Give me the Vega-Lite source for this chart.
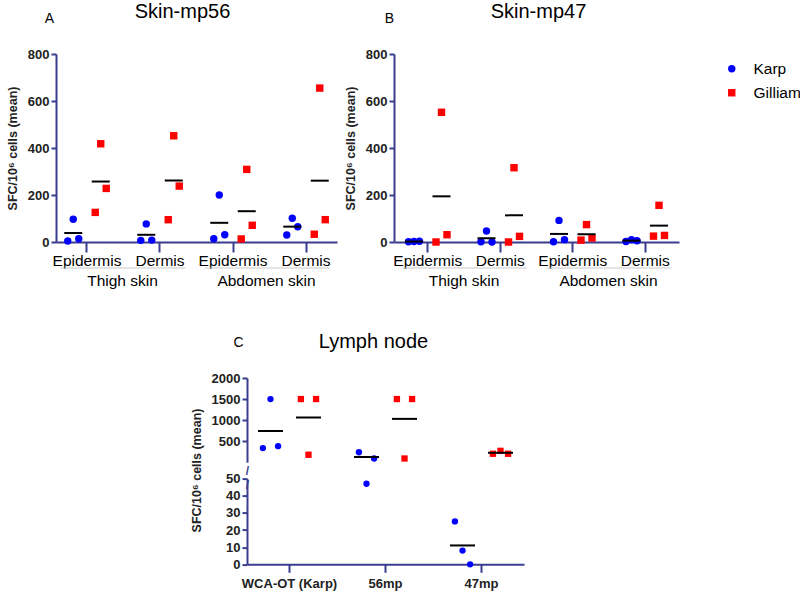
{
  "$schema": "https://vega.github.io/schema/vega-lite/v6.json",
  "background": "white",
  "padding": {"left": 6, "top": 2, "right": 0, "bottom": 0},
  "config": {
    "font": "Liberation Sans",
    "view": {"stroke": null},
    "axis": {"grid": false, "labelOverlap": false, "domainColor": "#3b3d8f", "domainWidth": 2, "tickColor": "#3b3d8f", "tickWidth": 2, "labelColor": "#222222", "titleColor": "#222222"},
    "title": {"fontWeight": "normal", "color": "#000000"}
  },
  "datasets": {
    "skin": [
      {"panel": "A", "site": "Thigh Epidermis", "strain": "Karp", "mouse": "Karp 1", "value": 4},
      {"panel": "A", "site": "Thigh Epidermis", "strain": "Karp", "mouse": "Karp 2", "value": 97},
      {"panel": "A", "site": "Thigh Epidermis", "strain": "Karp", "mouse": "Karp 3", "value": 14},
      {"panel": "A", "site": "Thigh Epidermis", "strain": "Gilliam", "mouse": "Gilliam 1", "value": 126},
      {"panel": "A", "site": "Thigh Epidermis", "strain": "Gilliam", "mouse": "Gilliam 2", "value": 418},
      {"panel": "A", "site": "Thigh Epidermis", "strain": "Gilliam", "mouse": "Gilliam 3", "value": 228},
      {"panel": "A", "site": "Thigh Dermis", "strain": "Karp", "mouse": "Karp 1", "value": 7},
      {"panel": "A", "site": "Thigh Dermis", "strain": "Karp", "mouse": "Karp 2", "value": 77},
      {"panel": "A", "site": "Thigh Dermis", "strain": "Karp", "mouse": "Karp 3", "value": 8},
      {"panel": "A", "site": "Thigh Dermis", "strain": "Gilliam", "mouse": "Gilliam 1", "value": 95},
      {"panel": "A", "site": "Thigh Dermis", "strain": "Gilliam", "mouse": "Gilliam 2", "value": 452},
      {"panel": "A", "site": "Thigh Dermis", "strain": "Gilliam", "mouse": "Gilliam 3", "value": 238},
      {"panel": "A", "site": "Abdomen Epidermis", "strain": "Karp", "mouse": "Karp 1", "value": 14},
      {"panel": "A", "site": "Abdomen Epidermis", "strain": "Karp", "mouse": "Karp 2", "value": 200},
      {"panel": "A", "site": "Abdomen Epidermis", "strain": "Karp", "mouse": "Karp 3", "value": 31},
      {"panel": "A", "site": "Abdomen Epidermis", "strain": "Gilliam", "mouse": "Gilliam 1", "value": 13},
      {"panel": "A", "site": "Abdomen Epidermis", "strain": "Gilliam", "mouse": "Gilliam 2", "value": 309},
      {"panel": "A", "site": "Abdomen Epidermis", "strain": "Gilliam", "mouse": "Gilliam 3", "value": 71},
      {"panel": "A", "site": "Abdomen Dermis", "strain": "Karp", "mouse": "Karp 1", "value": 30},
      {"panel": "A", "site": "Abdomen Dermis", "strain": "Karp", "mouse": "Karp 2", "value": 101},
      {"panel": "A", "site": "Abdomen Dermis", "strain": "Karp", "mouse": "Karp 3", "value": 65},
      {"panel": "A", "site": "Abdomen Dermis", "strain": "Gilliam", "mouse": "Gilliam 1", "value": 33},
      {"panel": "A", "site": "Abdomen Dermis", "strain": "Gilliam", "mouse": "Gilliam 2", "value": 655},
      {"panel": "A", "site": "Abdomen Dermis", "strain": "Gilliam", "mouse": "Gilliam 3", "value": 95},
      {"panel": "B", "site": "Thigh Epidermis", "strain": "Karp", "mouse": "Karp 1", "value": 1},
      {"panel": "B", "site": "Thigh Epidermis", "strain": "Karp", "mouse": "Karp 2", "value": 2},
      {"panel": "B", "site": "Thigh Epidermis", "strain": "Karp", "mouse": "Karp 3", "value": 3},
      {"panel": "B", "site": "Thigh Epidermis", "strain": "Gilliam", "mouse": "Gilliam 1", "value": 0},
      {"panel": "B", "site": "Thigh Epidermis", "strain": "Gilliam", "mouse": "Gilliam 2", "value": 552},
      {"panel": "B", "site": "Thigh Epidermis", "strain": "Gilliam", "mouse": "Gilliam 3", "value": 31},
      {"panel": "B", "site": "Thigh Dermis", "strain": "Karp", "mouse": "Karp 1", "value": 1},
      {"panel": "B", "site": "Thigh Dermis", "strain": "Karp", "mouse": "Karp 2", "value": 47},
      {"panel": "B", "site": "Thigh Dermis", "strain": "Karp", "mouse": "Karp 3", "value": 0},
      {"panel": "B", "site": "Thigh Dermis", "strain": "Gilliam", "mouse": "Gilliam 1", "value": 0},
      {"panel": "B", "site": "Thigh Dermis", "strain": "Gilliam", "mouse": "Gilliam 2", "value": 316},
      {"panel": "B", "site": "Thigh Dermis", "strain": "Gilliam", "mouse": "Gilliam 3", "value": 24},
      {"panel": "B", "site": "Abdomen Epidermis", "strain": "Karp", "mouse": "Karp 1", "value": 1},
      {"panel": "B", "site": "Abdomen Epidermis", "strain": "Karp", "mouse": "Karp 2", "value": 92},
      {"panel": "B", "site": "Abdomen Epidermis", "strain": "Karp", "mouse": "Karp 3", "value": 10},
      {"panel": "B", "site": "Abdomen Epidermis", "strain": "Gilliam", "mouse": "Gilliam 1", "value": 8},
      {"panel": "B", "site": "Abdomen Epidermis", "strain": "Gilliam", "mouse": "Gilliam 2", "value": 74},
      {"panel": "B", "site": "Abdomen Epidermis", "strain": "Gilliam", "mouse": "Gilliam 3", "value": 17},
      {"panel": "B", "site": "Abdomen Dermis", "strain": "Karp", "mouse": "Karp 1", "value": 2},
      {"panel": "B", "site": "Abdomen Dermis", "strain": "Karp", "mouse": "Karp 2", "value": 10},
      {"panel": "B", "site": "Abdomen Dermis", "strain": "Karp", "mouse": "Karp 3", "value": 5},
      {"panel": "B", "site": "Abdomen Dermis", "strain": "Gilliam", "mouse": "Gilliam 1", "value": 25},
      {"panel": "B", "site": "Abdomen Dermis", "strain": "Gilliam", "mouse": "Gilliam 2", "value": 156},
      {"panel": "B", "site": "Abdomen Dermis", "strain": "Gilliam", "mouse": "Gilliam 3", "value": 28}
    ],
    "lymph": [
      {"target": "WCA-OT (Karp)", "strain": "Karp", "mouse": "Karp 1", "value": 335},
      {"target": "WCA-OT (Karp)", "strain": "Karp", "mouse": "Karp 2", "value": 1500},
      {"target": "WCA-OT (Karp)", "strain": "Karp", "mouse": "Karp 3", "value": 380},
      {"target": "WCA-OT (Karp)", "strain": "Gilliam", "mouse": "Gilliam 1", "value": 1500},
      {"target": "WCA-OT (Karp)", "strain": "Gilliam", "mouse": "Gilliam 2", "value": 177},
      {"target": "WCA-OT (Karp)", "strain": "Gilliam", "mouse": "Gilliam 3", "value": 1500},
      {"target": "56mp", "strain": "Karp", "mouse": "Karp 1", "value": 237},
      {"target": "56mp", "strain": "Karp", "mouse": "Karp 2", "value": 47},
      {"target": "56mp", "strain": "Karp", "mouse": "Karp 3", "value": 88},
      {"target": "56mp", "strain": "Gilliam", "mouse": "Gilliam 1", "value": 1500},
      {"target": "56mp", "strain": "Gilliam", "mouse": "Gilliam 2", "value": 88},
      {"target": "56mp", "strain": "Gilliam", "mouse": "Gilliam 3", "value": 1500},
      {"target": "47mp", "strain": "Karp", "mouse": "Karp 1", "value": 25},
      {"target": "47mp", "strain": "Karp", "mouse": "Karp 2", "value": 8},
      {"target": "47mp", "strain": "Karp", "mouse": "Karp 3", "value": 0},
      {"target": "47mp", "strain": "Gilliam", "mouse": "Gilliam 1", "value": 200},
      {"target": "47mp", "strain": "Gilliam", "mouse": "Gilliam 2", "value": 270},
      {"target": "47mp", "strain": "Gilliam", "mouse": "Gilliam 3", "value": 200}
    ]
  },
  "resolve": {"scale": {"xOffset": "independent"}},
  "spacing": 42,
  "vconcat": [
    {
      "spacing": 7,
      "resolve": {"scale": {"xOffset": "independent"}},
      "hconcat": [
        {
          "width": 281,
          "height": 188,
          "title": {"text": "Skin-mp56", "fontSize": 20, "offset": -11, "dx": -14},
          "resolve": {"scale": {"x": "independent", "xOffset": "independent"}},
          "layer": [
            {
              "data": {"name": "skin"},
              "transform": [{"filter": "datum.panel === 'A'"}],
              "mark": {"type": "point", "filled": true, "size": 55, "opacity": 1},
              "encoding": {
                "x": {"field": "site", "type": "nominal", "scale": {"type": "band", "domain": ["Thigh Epidermis", "Thigh Dermis", "Abdomen Epidermis", "Abdomen Dermis"], "paddingInner": 0.473, "paddingOuter": 0.161},
                  "axis": {"title": null, "labelExpr": "split(datum.label, ' ')[1]", "labelAngle": 0, "labelFontSize": 15.5, "labelColor": "#000000", "tickSize": 10, "labelPadding": 1}},
                "xOffset": {"field": "mouse", "type": "nominal", "scale": {"type": "point", "domain": ["Karp 1", "Karp 2", "Karp 3", "gap 1", "gap 2", "Gilliam 1", "Gilliam 2", "Gilliam 3"], "padding": 0}},
                "y": {"field": "value", "type": "quantitative", "scale": {"domain": [0, 800]},
                  "axis": {"values": [0, 200, 400, 600, 800], "tickCount": 10, "title": "SFC/10⁶ cells (mean)", "labelFontWeight": "bold", "labelFontSize": 13, "tickSize": 5, "labelPadding": 2, "titleFontSize": 12.5, "titleFontWeight": "bold", "titlePadding": 8}},
                "color": {"field": "strain", "type": "nominal", "scale": {"domain": ["Karp", "Gilliam"], "range": ["#0000ff", "#ff0000"]},
                  "legend": {"title": null, "orient": "none", "legendX": 668, "legendY": 7, "labelFontSize": 15.5, "labelColor": "#000000", "symbolSize": 55, "rowPadding": 7, "labelOffset": 14}},
                "shape": {"field": "strain", "type": "nominal", "scale": {"domain": ["Karp", "Gilliam"], "range": ["circle", "square"]},
                  "legend": {"title": null, "orient": "none", "legendX": 668, "legendY": 7, "labelFontSize": 15.5, "labelColor": "#000000", "symbolSize": 55, "rowPadding": 7, "labelOffset": 14}}
              }
            },
            {
              "data": {"name": "skin"},
              "transform": [{"filter": "datum.panel === 'A' && datum.strain === 'Karp'"}, {"aggregate": [{"op": "mean", "field": "value", "as": "mean"}], "groupby": ["site"]}],
              "mark": {"type": "tick", "color": "#000000", "opacity": 1, "thickness": 2, "size": 18},
              "encoding": {
                "x": {"field": "site", "type": "nominal", "scale": {"type": "band", "domain": ["Thigh Epidermis", "Thigh Dermis", "Abdomen Epidermis", "Abdomen Dermis"], "paddingInner": 0.473, "paddingOuter": 0.161}, "axis": null},
                "xOffset": {"datum": "Karp 2", "scale": {"type": "point", "domain": ["Karp 1", "Karp 2", "Karp 3", "gap 1", "gap 2", "Gilliam 1", "Gilliam 2", "Gilliam 3"], "padding": 0}},
                "y": {"field": "mean", "type": "quantitative"}
              }
            },
            {
              "data": {"name": "skin"},
              "transform": [{"filter": "datum.panel === 'A' && datum.strain === 'Gilliam'"}, {"aggregate": [{"op": "mean", "field": "value", "as": "mean"}], "groupby": ["site"]}],
              "mark": {"type": "tick", "color": "#000000", "opacity": 1, "thickness": 2, "size": 18},
              "encoding": {
                "x": {"field": "site", "type": "nominal", "scale": {"type": "band", "domain": ["Thigh Epidermis", "Thigh Dermis", "Abdomen Epidermis", "Abdomen Dermis"], "paddingInner": 0.473, "paddingOuter": 0.161}, "axis": null},
                "xOffset": {"datum": "Gilliam 2", "scale": {"type": "point", "domain": ["Karp 1", "Karp 2", "Karp 3", "gap 1", "gap 2", "Gilliam 1", "Gilliam 2", "Gilliam 3"], "padding": 0}},
                "y": {"field": "mean", "type": "quantitative"}
              }
            },
            {
              "data": {"values": [{"region": "Thigh skin"}]},
              "mark": {"type": "point", "opacity": 0},
              "encoding": {
                "x": {"field": "region", "type": "nominal", "scale": {"type": "band", "range": [4, 129], "paddingInner": 0, "paddingOuter": 0},
                  "axis": {"orient": "bottom", "offset": 25.5, "domainColor": "#c8c8c8", "domainWidth": 1, "ticks": false, "labelPadding": 6, "labelFontSize": 15.5, "labelColor": "#000000", "labelAngle": 0,
                    "title": "A", "titleX": -7, "titleY": -249.5, "titleAngle": 0, "titleBaseline": "middle", "titleAlign": "center", "titleFontSize": 14, "titleFontWeight": "normal", "titleColor": "#000000"}},
                "y": {"datum": 0, "type": "quantitative"}
              }
            },
            {
              "data": {"values": [{"region": "Abdomen skin"}]},
              "mark": {"type": "point", "opacity": 0},
              "encoding": {
                "x": {"field": "region", "type": "nominal", "scale": {"type": "band", "range": [148, 273], "paddingInner": 0, "paddingOuter": 0},
                  "axis": {"orient": "bottom", "offset": 25.5, "domainColor": "#c8c8c8", "domainWidth": 1, "ticks": false, "labelPadding": 6, "labelFontSize": 15.5, "labelColor": "#000000", "title": null, "labelAngle": 0}},
                "y": {"datum": 0, "type": "quantitative"}
              }
            }
          ]
        },
        {
          "width": 285,
          "height": 188,
          "title": {"text": "Skin-mp47", "fontSize": 20, "offset": -11, "dx": 2},
          "resolve": {"scale": {"x": "independent", "xOffset": "independent"}},
          "layer": [
            {
              "data": {"name": "skin"},
              "transform": [{"filter": "datum.panel === 'B'"}],
              "mark": {"type": "point", "filled": true, "size": 55, "opacity": 1},
              "encoding": {
                "x": {"field": "site", "type": "nominal", "scale": {"type": "band", "domain": ["Thigh Epidermis", "Thigh Dermis", "Abdomen Epidermis", "Abdomen Dermis"], "paddingInner": 0.469, "paddingOuter": 0.2},
                  "axis": {"title": null, "labelExpr": "split(datum.label, ' ')[1]", "labelAngle": 0, "labelFontSize": 15.5, "labelColor": "#000000", "tickSize": 10, "labelPadding": 1}},
                "xOffset": {"field": "mouse", "type": "nominal", "scale": {"type": "point", "domain": ["Karp 1", "Karp 2", "Karp 3", "gap 1", "gap 2", "Gilliam 1", "Gilliam 2", "Gilliam 3"], "padding": 0}},
                "y": {"field": "value", "type": "quantitative", "scale": {"domain": [0, 800]},
                  "axis": {"values": [0, 200, 400, 600, 800], "tickCount": 10, "title": "SFC/10⁶ cells (mean)", "labelFontWeight": "bold", "labelFontSize": 13, "tickSize": 5, "labelPadding": 2, "titleFontSize": 12.5, "titleFontWeight": "bold", "titlePadding": 8}},
                "color": {"field": "strain", "type": "nominal", "scale": {"domain": ["Karp", "Gilliam"], "range": ["#0000ff", "#ff0000"]}},
                "shape": {"field": "strain", "type": "nominal", "scale": {"domain": ["Karp", "Gilliam"], "range": ["circle", "square"]}}
              }
            },
            {
              "data": {"name": "skin"},
              "transform": [{"filter": "datum.panel === 'B' && datum.strain === 'Karp'"}, {"aggregate": [{"op": "mean", "field": "value", "as": "mean"}], "groupby": ["site"]}],
              "mark": {"type": "tick", "color": "#000000", "opacity": 1, "thickness": 2, "size": 18},
              "encoding": {
                "x": {"field": "site", "type": "nominal", "scale": {"type": "band", "domain": ["Thigh Epidermis", "Thigh Dermis", "Abdomen Epidermis", "Abdomen Dermis"], "paddingInner": 0.469, "paddingOuter": 0.2}, "axis": null},
                "xOffset": {"datum": "Karp 2", "scale": {"type": "point", "domain": ["Karp 1", "Karp 2", "Karp 3", "gap 1", "gap 2", "Gilliam 1", "Gilliam 2", "Gilliam 3"], "padding": 0}},
                "y": {"field": "mean", "type": "quantitative"}
              }
            },
            {
              "data": {"name": "skin"},
              "transform": [{"filter": "datum.panel === 'B' && datum.strain === 'Gilliam'"}, {"aggregate": [{"op": "mean", "field": "value", "as": "mean"}], "groupby": ["site"]}],
              "mark": {"type": "tick", "color": "#000000", "opacity": 1, "thickness": 2, "size": 18},
              "encoding": {
                "x": {"field": "site", "type": "nominal", "scale": {"type": "band", "domain": ["Thigh Epidermis", "Thigh Dermis", "Abdomen Epidermis", "Abdomen Dermis"], "paddingInner": 0.469, "paddingOuter": 0.2}, "axis": null},
                "xOffset": {"datum": "Gilliam 2", "scale": {"type": "point", "domain": ["Karp 1", "Karp 2", "Karp 3", "gap 1", "gap 2", "Gilliam 1", "Gilliam 2", "Gilliam 3"], "padding": 0}},
                "y": {"field": "mean", "type": "quantitative"}
              }
            },
            {
              "data": {"values": [{"region": "Thigh skin"}]},
              "mark": {"type": "point", "opacity": 0},
              "encoding": {
                "x": {"field": "region", "type": "nominal", "scale": {"type": "band", "range": [8, 132], "paddingInner": 0, "paddingOuter": 0},
                  "axis": {"orient": "bottom", "offset": 25.5, "domainColor": "#c8c8c8", "domainWidth": 1, "ticks": false, "labelPadding": 6, "labelFontSize": 15.5, "labelColor": "#000000", "labelAngle": 0,
                    "title": "B", "titleX": -5, "titleY": -249.5, "titleAngle": 0, "titleBaseline": "middle", "titleAlign": "center", "titleFontSize": 14, "titleFontWeight": "normal", "titleColor": "#000000"}},
                "y": {"datum": 0, "type": "quantitative"}
              }
            },
            {
              "data": {"values": [{"region": "Abdomen skin"}]},
              "mark": {"type": "point", "opacity": 0},
              "encoding": {
                "x": {"field": "region", "type": "nominal", "scale": {"type": "band", "range": [152, 277], "paddingInner": 0, "paddingOuter": 0},
                  "axis": {"orient": "bottom", "offset": 25.5, "domainColor": "#c8c8c8", "domainWidth": 1, "ticks": false, "labelPadding": 6, "labelFontSize": 15.5, "labelColor": "#000000", "title": null, "labelAngle": 0}},
                "y": {"datum": 0, "type": "quantitative"}
              }
            }
          ]
        }
      ]
    },
    {
      "spacing": 0,
      "resolve": {"scale": {"xOffset": "independent"}},
      "hconcat": [
        {"width": 134, "height": 10, "data": {"values": [{"a": 1}]}, "mark": {"type": "point", "opacity": 0}, "encoding": {}},
        {
          "spacing": 15.6,
          "bounds": "flush",
          "resolve": {"scale": {"x": "independent", "xOffset": "independent"}},
          "vconcat": [
            {
              "width": 277,
              "height": 84.2,
              "title": {"text": "Lymph node", "fontSize": 20, "offset": -16, "dx": -12},
              "layer": [
                {
                  "data": {"name": "lymph"},
                  "transform": [{"filter": "datum.value >= 50"}],
                  "mark": {"type": "point", "filled": true, "size": 40, "opacity": 1},
                  "encoding": {
                    "x": {"field": "target", "type": "nominal", "scale": {"type": "band", "domain": ["WCA-OT (Karp)", "56mp", "47mp"], "paddingInner": 0.446, "paddingOuter": 0.1655},
                      "axis": {"domain": false, "ticks": false, "labels": false,
                        "title": "C", "titleX": -9, "titleY": -119.7, "titleAngle": 0, "titleBaseline": "middle", "titleAlign": "center", "titleFontSize": 14, "titleFontWeight": "normal", "titleColor": "#000000"}},
                    "xOffset": {"field": "mouse", "type": "nominal", "scale": {"type": "point", "domain": ["Karp 1", "Karp 2", "Karp 3", "gap 1", "gap 2", "Gilliam 1", "Gilliam 2", "Gilliam 3"], "padding": 0}},
                    "y": {"field": "value", "type": "quantitative", "scale": {"domain": [100, 2000]},
                      "axis": {"values": [500, 1000, 1500, 2000], "tickCount": 10, "format": "d", "labelOverlap": false, "title": "SFC/10⁶ cells (mean)", "titleY": 92, "labelFontWeight": "bold", "labelFontSize": 13, "tickSize": 5, "labelPadding": 2, "titleFontSize": 12.5, "titleFontWeight": "bold", "titlePadding": 8}},
                    "color": {"field": "strain", "type": "nominal", "scale": {"domain": ["Karp", "Gilliam"], "range": ["#0000ff", "#ff0000"]}},
                    "shape": {"field": "strain", "type": "nominal", "scale": {"domain": ["Karp", "Gilliam"], "range": ["circle", "square"]}}
                  }
                },
                {
                  "data": {"name": "lymph"},
                  "transform": [{"filter": "datum.strain === 'Karp'"}, {"aggregate": [{"op": "mean", "field": "value", "as": "mean"}], "groupby": ["target"]}, {"filter": "datum.mean >= 50"}],
                  "mark": {"type": "tick", "color": "#000000", "opacity": 1, "thickness": 2, "size": 25},
                  "encoding": {
                    "x": {"field": "target", "type": "nominal"},
                    "xOffset": {"datum": "Karp 2"},
                    "y": {"field": "mean", "type": "quantitative"}
                  }
                },
                {
                  "data": {"name": "lymph"},
                  "transform": [{"filter": "datum.strain === 'Gilliam'"}, {"aggregate": [{"op": "mean", "field": "value", "as": "mean"}], "groupby": ["target"]}, {"filter": "datum.mean >= 50"}],
                  "mark": {"type": "tick", "color": "#000000", "opacity": 1, "thickness": 2, "size": 25},
                  "encoding": {
                    "x": {"field": "target", "type": "nominal"},
                    "xOffset": {"datum": "Gilliam 2"},
                    "y": {"field": "mean", "type": "quantitative"}
                  }
                }
              ]
            },
            {
              "width": 277,
              "height": 85.7,
              "layer": [
                {
                  "data": {"name": "lymph"},
                  "transform": [{"filter": "datum.value < 50"}],
                  "mark": {"type": "point", "filled": true, "size": 40, "opacity": 1},
                  "encoding": {
                    "x": {"field": "target", "type": "nominal", "scale": {"type": "band", "domain": ["WCA-OT (Karp)", "56mp", "47mp"], "paddingInner": 0.446, "paddingOuter": 0.1655},
                      "axis": {"labelAngle": 0, "labelFontSize": 13, "labelFontWeight": "bold", "tickSize": 8, "labelPadding": 5,
                        "title": ["/", "/"], "titleX": 0, "titleY": -93.5, "titleAngle": 0, "titleBaseline": "middle", "titleAlign": "center", "titleFontSize": 12, "titleLineHeight": 14, "titleFontWeight": "bold", "titleColor": "#3b3d8f"}},
                    "xOffset": {"field": "mouse", "type": "nominal", "scale": {"type": "point", "domain": ["Karp 1", "Karp 2", "Karp 3", "gap 1", "gap 2", "Gilliam 1", "Gilliam 2", "Gilliam 3"], "padding": 0}},
                    "y": {"field": "value", "type": "quantitative", "scale": {"domain": [0, 50]},
                      "axis": {"values": [0, 10, 20, 30, 40, 50], "tickCount": 10, "labelOverlap": false, "title": null, "labelFontWeight": "bold", "labelFontSize": 13, "tickSize": 5, "labelPadding": 2}},
                    "color": {"field": "strain", "type": "nominal", "scale": {"domain": ["Karp", "Gilliam"], "range": ["#0000ff", "#ff0000"]}},
                    "shape": {"field": "strain", "type": "nominal", "scale": {"domain": ["Karp", "Gilliam"], "range": ["circle", "square"]}}
                  }
                },
                {
                  "data": {"name": "lymph"},
                  "transform": [{"filter": "datum.strain === 'Karp'"}, {"aggregate": [{"op": "mean", "field": "value", "as": "mean"}], "groupby": ["target"]}, {"filter": "datum.mean < 50"}],
                  "mark": {"type": "tick", "color": "#000000", "opacity": 1, "thickness": 2, "size": 25},
                  "encoding": {
                    "x": {"field": "target", "type": "nominal"},
                    "xOffset": {"datum": "Karp 2"},
                    "y": {"field": "mean", "type": "quantitative"}
                  }
                }
              ]
            }
          ]
        }
      ]
    }
  ]
}
